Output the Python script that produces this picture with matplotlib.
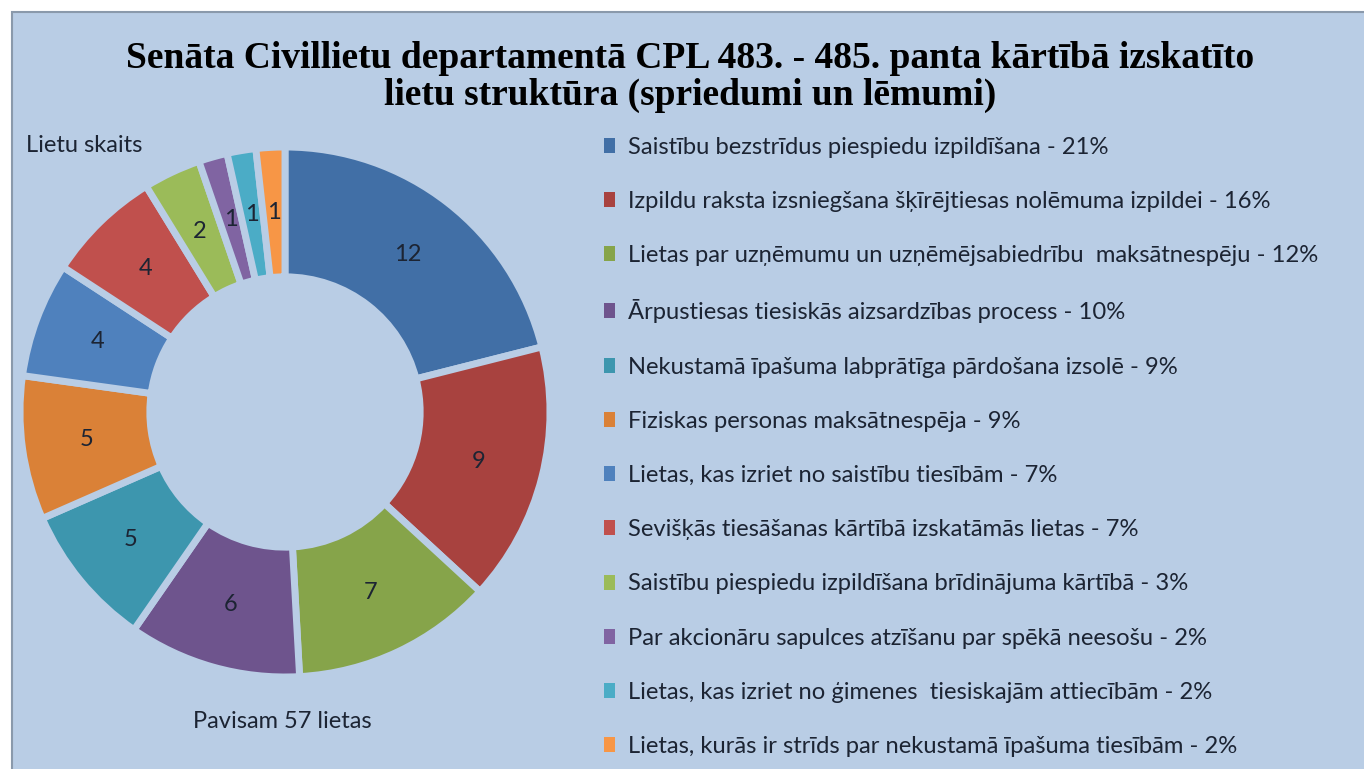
import matplotlib.pyplot as plt
from matplotlib.patches import Rectangle, Patch

# dati
vertibas = [12, 9, 7, 6, 5, 5, 4, 4, 2, 1, 1, 1]
nosaukumi = [
    "Saistību bezstrīdus piespiedu izpildīšana - 21%",
    "Izpildu raksta izsniegšana šķīrējtiesas nolēmuma izpildei - 16%",
    "Lietas par uzņēmumu un uzņēmējsabiedrību  maksātnespēju - 12%",
    "Ārpustiesas tiesiskās aizsardzības process - 10%",
    "Nekustamā īpašuma labprātīga pārdošana izsolē - 9%",
    "Fiziskas personas maksātnespēja - 9%",
    "Lietas, kas izriet no saistību tiesībām - 7%",
    "Sevišķās tiesāšanas kārtībā izskatāmās lietas - 7%",
    "Saistību piespiedu izpildīšana brīdinājuma kārtībā - 3%",
    "Par akcionāru sapulces atzīšanu par spēkā neesošu - 2%",
    "Lietas, kas izriet no ģimenes  tiesiskajām attiecībām - 2%",
    "Lietas, kurās ir strīds par nekustamā īpašuma tiesībām - 2%",
]
krasas = ["#416FA6", "#A8423F", "#86A44A", "#6E548D", "#3D96AE", "#DA8137",
          "#4F81BD", "#C0504D", "#9BBB59", "#8064A2", "#4BACC6", "#F79646"]

virsraksts = "Senāta Civillietu departamentā CPL 483. - 485. panta kārtībā izskatīto\nlietu struktūra (spriedumi un lēmumi)"
fons = "#B9CDE5"
teksta_krasa = "#1c2433"

W, H = 1364, 769
fig = plt.figure(figsize=(W / 100, H / 100), dpi=100, facecolor="white")

# fona laukums ar pelēku malu
fig.patches.append(Rectangle((12 / W, -0.01), 1.01, 1 - 12 / H + 0.01, transform=fig.transFigure,
                             facecolor=fons, edgecolor="#8a99ab", linewidth=1.5, zorder=-5))

fig.text(0.506, 1 - 77 / H, virsraksts, ha="center", va="center", fontsize=27,
         fontweight="bold", family="Liberation Serif", color="black", linespacing=1.1)

# donut
cx, cy, R = 285, 412, 265
half = 280
ax = fig.add_axes([(cx - half) / W, (H - cy - half) / H, 2 * half / W, 2 * half / H])
ax.set_zorder(1)

kopa = sum(vertibas)
wedges, _, autotexts = ax.pie(
    vertibas, colors=krasas, startangle=90, counterclock=False, radius=1,
    wedgeprops=dict(width=0.49, edgecolor=fons, linewidth=5),
    autopct=lambda p: f"{round(p * kopa / 100)}", pctdistance=0.755,
    textprops=dict(fontsize=17, color=teksta_krasa, family="Lato"))
ax.set_xlim(-half / R, half / R)
ax.set_ylim(-half / R, half / R)
ax.set_aspect("equal")
ax.axis("off")

fig.text(26 / W, 1 - 145 / H, "Lietu skaits", ha="left", va="center", fontsize=17,
         family="Lato", color=teksta_krasa)
fig.text(282 / W, 1 - 722 / H, f"Pavisam {kopa} lietas", ha="center", va="center",
         fontsize=17, family="Lato", color=teksta_krasa)

handles = [Patch(facecolor=c, edgecolor="none") for c in krasas]
fig.legend(handles, nosaukumi, loc="upper left", bbox_to_anchor=(594 / W, 1 - 127 / H),
           frameon=False, prop=dict(family="Lato", size=17.1),
           handlelength=0.5, handleheight=0.6, handletextpad=0.55,
           labelspacing=1.4, labelcolor=teksta_krasa, borderaxespad=0)

fig.savefig("out.png", dpi=100, facecolor="white")
